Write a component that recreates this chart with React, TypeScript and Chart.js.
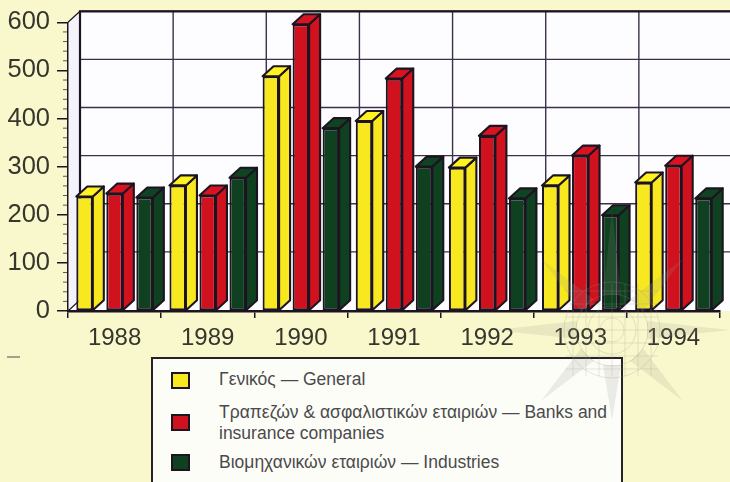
import React, { useEffect, useRef } from "react";
import { Chart, registerables } from "chart.js";

Chart.register(...registerables);

const years = ["1988", "1989", "1990", "1991", "1992", "1993", "1994"];
const general = [238, 261, 488, 395, 298, 261, 267];
const banks = [244, 240, 596, 483, 364, 323, 302];
const industries = [236, 277, 380, 300, 234, 199, 234];
const yTicks = [0, 100, 200, 300, 400, 500, 600];

const INK = "#1d1422";
const GRID = "#3b3048";
const TEXT = "#36362f";
const PAGE = "#f9f8cc";
const DX = 12;
const DY = 11;
const BAR_DX = 11;
const BAR_DY = 10;

function shade(hex: string, f: number) {
  const n = parseInt(hex.slice(1), 16);
  const c = [(n >> 16) & 255, (n >> 8) & 255, n & 255].map((v) => Math.round(Math.min(255, v * f)));
  return `rgb(${c[0]},${c[1]},${c[2]})`;
}

const wallsPlugin = {
  id: "walls",
  beforeDraw(chart: any) {
    const { ctx, chartArea: a, scales } = chart;
    const y = scales.y;
    const x = scales.x;
    ctx.save();
    ctx.fillStyle = "#fdfdff";
    ctx.fillRect(a.left + DX, a.top - DY, 730 - a.left - DX, a.bottom - a.top);
    ctx.fillStyle = "#f4f3fb";
    ctx.beginPath();
    ctx.moveTo(a.left, a.top);
    ctx.lineTo(a.left + DX, a.top - DY);
    ctx.lineTo(a.left + DX, a.bottom - DY);
    ctx.lineTo(a.left, a.bottom);
    ctx.closePath();
    ctx.fill();
    ctx.fillStyle = "#fdfdff";
    ctx.beginPath();
    ctx.moveTo(a.left, a.bottom);
    ctx.lineTo(a.left + DX, a.bottom - DY);
    ctx.lineTo(730, a.bottom - DY);
    ctx.lineTo(730, a.bottom);
    ctx.closePath();
    ctx.fill();

    ctx.strokeStyle = GRID;
    ctx.lineWidth = 1.4;
    yTicks.forEach((v) => {
      if (v === 0) return;
      const py = y.getPixelForValue(v) - DY;
      ctx.beginPath();
      ctx.moveTo(a.left + DX, py);
      ctx.lineTo(730, py);
      ctx.stroke();
    });
    const step = (a.right - a.left) / years.length;
    for (let i = 1; i <= years.length; i++) {
      const px = x.left + i * step + DX;
      ctx.beginPath();
      ctx.moveTo(px, a.top - DY);
      ctx.lineTo(px, a.bottom - DY);
      ctx.stroke();
    }
    ctx.strokeStyle = INK;
    ctx.lineWidth = 2.2;
    ctx.beginPath();
    ctx.moveTo(a.left + DX, a.bottom - DY);
    ctx.lineTo(a.left + DX, a.top - DY);
    ctx.lineTo(730, a.top - DY);
    ctx.stroke();
    ctx.lineWidth = 1.2;
    ctx.beginPath();
    ctx.moveTo(a.left, a.top);
    ctx.lineTo(a.left + DX, a.top - DY);
    ctx.moveTo(a.left, a.bottom);
    ctx.lineTo(a.left + DX, a.bottom - DY);
    ctx.stroke();

    // minor ticks on the value axis
    ctx.strokeStyle = "#5a5560";
    ctx.lineWidth = 1;
    for (let v = 20; v < 600; v += 20) {
      if (v % 100 === 0) continue;
      const py = y.getPixelForValue(v);
      ctx.beginPath();
      ctx.moveTo(a.left - 5, py);
      ctx.lineTo(a.left, py);
      ctx.stroke();
    }
    ctx.restore();
  },
};

const depthPlugin = {
  id: "depth",
  beforeDatasetsDraw(chart: any) {
    const { ctx } = chart;
    ctx.save();
    ctx.strokeStyle = INK;
    ctx.lineWidth = 2.1;
    ctx.lineJoin = "round";
    chart.getSortedVisibleDatasetMetas().forEach((meta: any) => {
      const color = chart.data.datasets[meta.index].backgroundColor as string;
      meta.data.forEach((bar: any) => {
        const l = bar.x - bar.width / 2;
        const r = bar.x + bar.width / 2;
        const t = bar.y;
        const b = bar.base;
        ctx.fillStyle = color;
        ctx.beginPath();
        ctx.moveTo(r, t);
        ctx.lineTo(r + BAR_DX, t - BAR_DY);
        ctx.lineTo(r + BAR_DX, b - BAR_DY);
        ctx.lineTo(r, b);
        ctx.closePath();
        ctx.fill();
        ctx.stroke();
        ctx.fillStyle = shade(color, 1.05);
        ctx.beginPath();
        ctx.moveTo(l, t);
        ctx.lineTo(l + BAR_DX, t - BAR_DY);
        ctx.lineTo(r + BAR_DX, t - BAR_DY);
        ctx.lineTo(r, t);
        ctx.closePath();
        ctx.fill();
        ctx.stroke();
      });
    });
    ctx.restore();
  },
};

const stampPlugin = {
  id: "stamp",
  afterDraw(chart: any) {
    const { ctx } = chart;
    const cx = 612;
    const cy = 330;
    ctx.save();
    ctx.fillStyle = "rgba(150,150,135,0.17)";
    ctx.strokeStyle = "rgba(150,150,135,0.24)";
    const spikes: [number, number][] = [
      [90, 120], [270, 90], [0, 118], [180, 118], [45, 100], [135, 100], [225, 100], [315, 100],
    ];
    spikes.forEach(([deg, len]) => {
      const d = (deg * Math.PI) / 180;
      const ux = Math.cos(d);
      const uy = -Math.sin(d);
      ctx.beginPath();
      ctx.moveTo(cx + ux * len, cy + uy * len);
      ctx.lineTo(cx - uy * 9 + ux * 35, cy + ux * 9 + uy * 35);
      ctx.lineTo(cx + uy * 9 + ux * 35, cy - ux * 9 + uy * 35);
      ctx.closePath();
      ctx.fill();
    });
    ctx.lineWidth = 1;
    for (let r = 12; r <= 48; r += 12) {
      ctx.beginPath();
      ctx.arc(cx, cy, r, 0, Math.PI * 2);
      ctx.stroke();
    }
    for (let i = -3; i <= 3; i++) {
      ctx.beginPath();
      ctx.moveTo(cx + i * 13, cy - 46);
      ctx.lineTo(cx + i * 13, cy + 46);
      ctx.moveTo(cx - 46, cy + i * 13);
      ctx.lineTo(cx + 46, cy + i * 13);
      ctx.stroke();
    }
    ctx.strokeStyle = "#66666a";
    ctx.lineWidth = 1.2;
    ctx.beginPath();
    ctx.moveTo(7, 357);
    ctx.lineTo(20, 357);
    ctx.stroke();
    ctx.restore();
  },
};

const legendItems = [
  { color: "#f8e81f", top: 372, textTop: 369, lines: ["Γενικός — General"] },
  { color: "#d0121f", top: 414, textTop: 402, lines: ["Τραπεζών & ασφαλιστικών εταιριών — Banks and", "insurance companies"] },
  { color: "#0f4020", top: 454, textTop: 452, lines: ["Βιομηχανικών εταιριών — Industries"] },
];

export default function App() {
  const ref = useRef<HTMLCanvasElement | null>(null);
  useEffect(() => {
    if (!ref.current) return;
    const common = { borderColor: INK, borderWidth: 2.1, borderSkipped: false, categoryPercentage: 0.967, barPercentage: 0.55 };
    const chart = new Chart(ref.current, {
      type: "bar",
      data: {
        labels: years,
        datasets: [
          { label: "Γενικός — General", data: general, backgroundColor: "#f8e81f", ...common },
          { label: "Τραπεζών & ασφαλιστικών εταιριών — Banks and insurance companies", data: banks, backgroundColor: "#d0121f", ...common },
          { label: "Βιομηχανικών εταιριών — Industries", data: industries, backgroundColor: "#0f4020", ...common },
        ],
      },
      options: {
        responsive: false,
        animation: false,
        layout: { padding: { top: 21, right: 10, bottom: 131, left: 0 } },
        plugins: { legend: { display: false }, tooltip: { enabled: false } },
        scales: {
          x: {
            grid: { drawOnChartArea: false, drawTicks: true, tickLength: 7, color: INK, lineWidth: 1.5 },
            border: { color: INK, width: 2.4 },
            ticks: { color: TEXT, padding: 6, maxRotation: 0, font: { family: "'Liberation Sans'", size: 24 } },
            afterFit(s: any) { s.height = 40; },
          },
          y: {
            min: 0,
            max: 600,
            grid: { drawOnChartArea: false, drawTicks: true, tickLength: 11, color: INK, lineWidth: 1.5 },
            border: { color: INK, width: 1.5 },
            ticks: { color: TEXT, padding: 7, stepSize: 100, font: { family: "'Liberation Sans'", size: 25.5 } },
            afterFit(s: any) { s.width = 68; },
          },
        },
      },
      plugins: [wallsPlugin, depthPlugin, stampPlugin],
    } as any);
    return () => chart.destroy();
  }, []);

  return (
    <div style={{ position: "absolute", left: 0, top: 0, width: 730, height: 482, overflow: "hidden", background: PAGE }}>
      <div style={{ position: "absolute", left: 151, top: 357, width: 468, height: 140, background: "#fdfdf8", border: "2.5px solid #25222a", boxSizing: "content-box" }} />
      {legendItems.map((it) => (
        <React.Fragment key={it.color}>
          <div style={{ position: "absolute", left: 171, top: it.top, width: 15, height: 13, background: it.color, border: "2.5px solid #1d1422" }} />
          <div style={{ position: "absolute", left: 219, top: it.textTop, fontFamily: "'Liberation Sans'", fontSize: 17.5, lineHeight: "21px", color: "#4a4a4c", whiteSpace: "nowrap" }}>
            {it.lines.map((l) => <div key={l}>{l}</div>)}
          </div>
        </React.Fragment>
      ))}
      <canvas ref={ref} width={730} height={482} style={{ position: "absolute", left: 0, top: 0, display: "block" }} />
    </div>
  );
}
